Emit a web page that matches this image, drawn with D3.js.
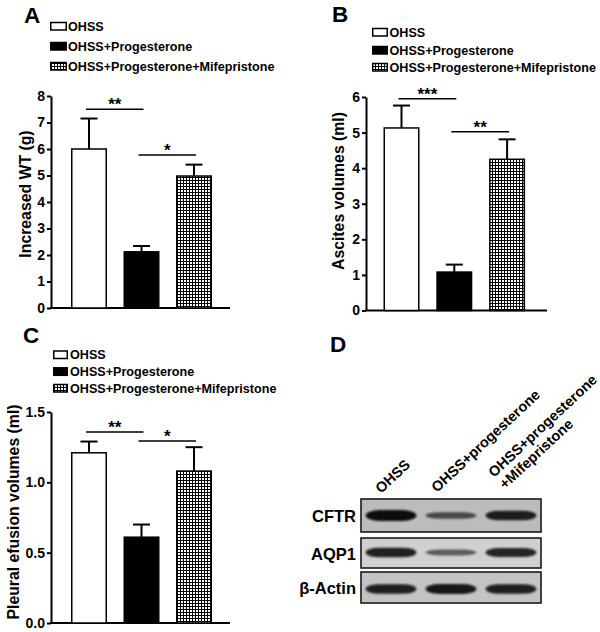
<!DOCTYPE html>
<html><head><meta charset="utf-8">
<script src="https://cdn.jsdelivr.net/npm/d3@7"></script>
<style>
html,body{margin:0;padding:0;background:#fff;}
svg{display:block;font-family:"Liberation Sans",Arial,Helvetica,sans-serif;font-weight:bold;}
</style></head>
<body>
<svg id="chart" width="600" height="632"></svg>
<script>
// ---------- DATA ----------
const groups = ["OHSS", "OHSS+Progesterone", "OHSS+Progesterone+Mifepristone"];

const wtMean = [6.0, 2.12, 4.98];
const wtErr  = [1.15, 0.22, 0.43];
const wtTicks = [0, 1, 2, 3, 4, 5, 6, 7, 8];

const ascMean = [5.13, 1.08, 4.25];
const ascErr  = [0.63, 0.21, 0.56];
const ascTicks = [0, 1, 2, 3, 4, 5, 6];

const pleMean = [1.21, 0.61, 1.08];
const pleErr  = [0.08, 0.09, 0.17];
const pleTicks = [0.0, 0.5, 1.0, 1.5];

const sigA = [{a: 0, b: 1, y: 7.5,  label: "**"}, {a: 1, b: 2, y: 5.77, label: "*"}];
const sigB = [{a: 0, b: 1, y: 5.95, label: "***"}, {a: 1, b: 2, y: 5.02, label: "**"}];
const sigC = [{a: 0, b: 1, y: 1.357, label: "**"}, {a: 1, b: 2, y: 1.293, label: "*"}];

const lanes = ["OHSS", "OHSS+progesterone", "OHSS+progesterone|+Mifepristone"];
const proteins = ["CFTR", "AQP1", "β-Actin"];
const bandIntensity = [
  [0.97, 0.45, 0.82],
  [0.82, 0.35, 0.78],
  [0.82, 0.88, 0.82]
];

// ---------- DRAW ----------
const svg = d3.select("#chart");
const defs = svg.append("defs");
const pat = defs.append("pattern").attr("id", "grid")
  .attr("patternUnits", "userSpaceOnUse").attr("width", 3).attr("height", 3);
pat.append("rect").attr("width", 3).attr("height", 3).attr("fill", "#fff");
pat.append("path").attr("d", "M0 0.5H3M0.5 0V3").attr("stroke", "#000").attr("stroke-width", 1);
defs.append("filter").attr("id", "blur").attr("x", "-20%").attr("y", "-100%").attr("width", "140%").attr("height", "300%")
  .append("feGaussianBlur").attr("stdDeviation", 1.3);

const fills = ["#fff", "#000", "url(#grid)"];

const panels = [
  {letter: "A", lx: 24, ly: 23, legX: 50, legRows: [26, 46, 66], legW: 17, legTx: 68,
   axisX: 51, axisEnd: 230, y0: 308, y1: 96, barStart: 71, step: 52.5, bw: 36,
   label: "Increased WT (g)", labelX: 31, labelY: 194,
   means: wtMean, errs: wtErr, ticks: wtTicks, max: 8, fmt: d3.format("d"), sig: sigA},
  {letter: "B", lx: 332, ly: 22, legX: 372, legRows: [32, 50, 67], legW: 16, legTx: 389.5,
   axisX: 366, axisEnd: 547, y0: 310.5, y1: 97, barStart: 383.5, step: 52.8, bw: 36,
   label: "Ascites volumes (ml)", labelX: 343.5, labelY: 191,
   means: ascMean, errs: ascErr, ticks: ascTicks, max: 6, fmt: d3.format("d"), sig: sigB},
  {letter: "C", lx: 23, ly: 343, legX: 53, legRows: [354.5, 371.3, 388], legW: 15, legTx: 70,
   axisX: 51, axisEnd: 230, y0: 623, y1: 412, barStart: 71, step: 52.5, bw: 36,
   label: "Pleural efusion volumes (ml)", labelX: 18.5, labelY: 512,
   means: pleMean, errs: pleErr, ticks: pleTicks, max: 1.5, fmt: d3.format(".1f"), sig: sigC}
];

panels.forEach(p => {
  const g = svg.append("g");
  g.append("text").attr("x", p.lx).attr("y", p.ly).attr("font-size", 22.5).text(p.letter);

  // legend
  groups.forEach((name, i) => {
    const cy = p.legRows[i];
    g.append("rect").attr("x", p.legX + 0.75).attr("y", cy - 3.5).attr("width", p.legW - 1.5).attr("height", 7.5)
      .attr("fill", fills[i]).attr("stroke", "#000").attr("stroke-width", 1.5);
    g.append("text").attr("x", p.legTx).attr("y", cy + 4.7).attr("font-size", 12.6).text(name);
  });

  const y = d3.scaleLinear().domain([0, p.max]).range([p.y0, p.y1]);
  const x = d3.scaleBand().domain(groups)
    .range([p.barStart, p.barStart + 2 * p.step + p.bw])
    .paddingInner(1 - p.bw / p.step).paddingOuter(0).align(0);

  // y axis
  const ya = g.append("g").attr("transform", `translate(${p.axisX},0)`)
    .call(d3.axisLeft(y).tickValues(p.ticks).tickFormat(p.fmt).tickSize(4).tickSizeOuter(0).tickPadding(2));
  ya.select(".domain").attr("stroke-width", 2);
  ya.selectAll(".tick line").attr("stroke-width", 2);
  ya.selectAll(".tick text").attr("font-size", 14).attr("font-family", "Liberation Sans, Arial, sans-serif")
    .attr("font-weight", "bold").attr("fill", "#000");

  // x axis baseline
  g.append("line").attr("x1", p.axisX - 1).attr("x2", p.axisEnd).attr("y1", y(0)).attr("y2", y(0))
    .attr("stroke", "#000").attr("stroke-width", 2);

  // y label
  g.append("text").attr("transform", `translate(${p.labelX},${p.labelY}) rotate(-90)`)
    .attr("text-anchor", "middle").attr("font-size", 15.8).text(p.label);

  // bars
  groups.forEach((name, i) => {
    const v = p.means[i], e = p.errs[i];
    const bx = x(name), cx = bx + x.bandwidth() / 2;
    g.append("line").attr("x1", cx).attr("x2", cx).attr("y1", y(v)).attr("y2", y(v + e))
      .attr("stroke", "#000").attr("stroke-width", 2);
    g.append("line").attr("x1", cx - 8.5).attr("x2", cx + 8.5).attr("y1", y(v + e)).attr("y2", y(v + e))
      .attr("stroke", "#000").attr("stroke-width", 2);
    g.append("rect").attr("x", bx + 0.75).attr("y", y(v)).attr("width", x.bandwidth() - 1.5)
      .attr("height", y(0) - y(v)).attr("fill", fills[i]).attr("stroke", "#000").attr("stroke-width", 1.5);
  });

  // significance
  p.sig.forEach(s => {
    const xa = x(groups[s.a]) + x.bandwidth() / 2 - 3;
    const xb = x(groups[s.b]) + x.bandwidth() / 2 + 2;
    g.append("line").attr("x1", xa).attr("x2", xb).attr("y1", y(s.y)).attr("y2", y(s.y))
      .attr("stroke", "#000").attr("stroke-width", 1.5);
    g.append("text").attr("x", (xa + xb) / 2).attr("y", y(s.y) + 1).attr("text-anchor", "middle")
      .attr("font-size", 17).text(s.label);
  });
});

// ---------- Panel D : western blot ----------
const gd = svg.append("g");
gd.append("text").attr("x", 330).attr("y", 352).attr("font-size", 22.5).text("D");

const blotX = d3.scaleBand().domain(lanes).range([361, 541]).paddingInner(0.12).paddingOuter(0.06);
const blotRows = [[499, 532], [538, 568], [572, 603]];
const bgCol = ["#bcbcbc", "#d0d0d0", "#c4c4c4"];
const bandOff = [0, -0.5, 1.5];

const laneStarts = [[381, 494], [437, 493], [494, 478]];
lanes.forEach((ln, i) => {
  const t = gd.append("text").attr("transform", `translate(${laneStarts[i][0]},${laneStarts[i][1]}) rotate(-43)`)
    .attr("font-size", 14.5);
  ln.split("|").forEach((part, k) => {
    t.append("tspan").attr("x", 0).attr("dy", k ? 16 : 0).text(part);
  });
});

proteins.forEach((pr, r) => {
  const [t0, t1] = blotRows[r];
  const cy = (t0 + t1) / 2 + bandOff[r];
  gd.append("rect").attr("x", 361).attr("y", t0).attr("width", 180).attr("height", t1 - t0)
    .attr("fill", bgCol[r]);
  lanes.forEach((ln, i) => {
    const inten = bandIntensity[r][i];
    const h = 3 + 8 * inten;
    gd.append("rect").attr("x", blotX(ln) + 1).attr("y", cy - h / 2).attr("width", blotX.bandwidth() - 2)
      .attr("height", h).attr("rx", 14).attr("ry", h / 2)
      .attr("fill", "#000").attr("opacity", 0.35 + 0.6 * inten).attr("filter", "url(#blur)");
  });
  gd.append("rect").attr("x", 361).attr("y", t0).attr("width", 180).attr("height", t1 - t0)
    .attr("fill", "none").attr("stroke", "#1a1a1a").attr("stroke-width", 1.6);
  gd.append("text").attr("x", 356).attr("y", (t0 + t1) / 2 + 6.5).attr("text-anchor", "end")
    .attr("font-size", 16.5).text(pr);
});
</script>
</body></html>
